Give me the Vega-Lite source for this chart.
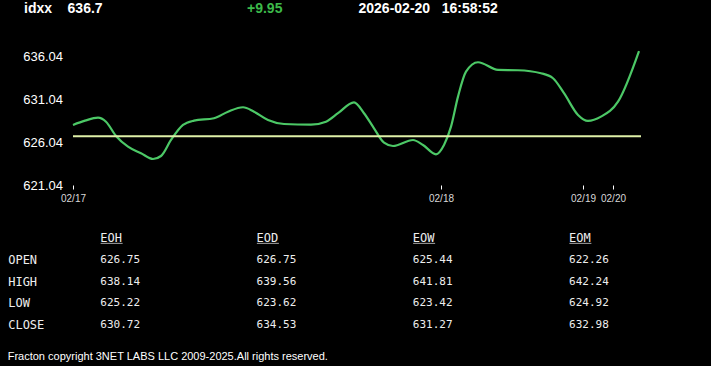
{
  "$schema": "https://vega.github.io/schema/vega-lite/v6.json",
  "background": "#000000",
  "padding": {"left": 7, "top": 0, "right": 14, "bottom": 4},
  "spacing": 13,
  "title": {
    "text": "Fracton copyright 3NET LABS LLC 2009-2025.All rights reserved.",
    "orient": "bottom",
    "anchor": "start",
    "frame": "bounds",
    "color": "#ffffff",
    "font": "Liberation Sans",
    "fontSize": 11,
    "fontWeight": "normal",
    "offset": 3
  },
  "config": {
    "view": {"stroke": null},
    "axis": {"grid": false, "domain": false}
  },
  "datasets": {
    "header": [
      {"slot": "symbol", "text": "idxx\u00a0\u00a0\u00a0\u00a0636.7"},
      {"slot": "change", "text": "+9.95"},
      {"slot": "time", "text": "2026-02-20\u00a0\u00a0\u00a016:58:52"}
    ],
    "open": [{"open": 626.75}],
    "series": [
      {"n": 0, "price": 628.06},
      {"n": 6, "price": 628.56},
      {"n": 12.5, "price": 628.91},
      {"n": 16.5, "price": 628.44},
      {"n": 21.5, "price": 626.77},
      {"n": 27.5, "price": 625.52},
      {"n": 34, "price": 624.75},
      {"n": 40, "price": 624.08},
      {"n": 44, "price": 624.43},
      {"n": 49, "price": 626.3},
      {"n": 55, "price": 628.06},
      {"n": 60.5, "price": 628.56},
      {"n": 70.5, "price": 628.84},
      {"n": 77.5, "price": 629.61},
      {"n": 85, "price": 630.13},
      {"n": 90.5, "price": 629.61},
      {"n": 97.5, "price": 628.64},
      {"n": 105.5, "price": 628.17},
      {"n": 119, "price": 628.09},
      {"n": 126.5, "price": 628.44},
      {"n": 132.5, "price": 629.43},
      {"n": 140.5, "price": 630.7},
      {"n": 145.5, "price": 629.43},
      {"n": 150.5, "price": 627.67},
      {"n": 155.5, "price": 625.99},
      {"n": 160, "price": 625.6},
      {"n": 170, "price": 626.3},
      {"n": 175, "price": 625.72},
      {"n": 181.5, "price": 624.63},
      {"n": 185.5, "price": 625.72},
      {"n": 189, "price": 627.86},
      {"n": 192.5, "price": 631.37},
      {"n": 196.5, "price": 634.29},
      {"n": 202.5, "price": 635.39},
      {"n": 212.5, "price": 634.49},
      {"n": 222.5, "price": 634.45},
      {"n": 234, "price": 634.1},
      {"n": 240, "price": 633.52},
      {"n": 245.5, "price": 631.77},
      {"n": 252.5, "price": 629.23},
      {"n": 257.5, "price": 628.53},
      {"n": 264, "price": 629.03},
      {"n": 272.5, "price": 630.78},
      {"n": 283, "price": 636.7}
    ],
    "columns": [{"col": "EOH"}, {"col": "EOD"}, {"col": "EOW"}, {"col": "EOM"}],
    "table": [
      {"row": "OPEN", "col": "EOH", "value": 626.75},
      {"row": "OPEN", "col": "EOD", "value": 626.75},
      {"row": "OPEN", "col": "EOW", "value": 625.44},
      {"row": "OPEN", "col": "EOM", "value": 622.26},
      {"row": "HIGH", "col": "EOH", "value": 638.14},
      {"row": "HIGH", "col": "EOD", "value": 639.56},
      {"row": "HIGH", "col": "EOW", "value": 641.81},
      {"row": "HIGH", "col": "EOM", "value": 642.24},
      {"row": "LOW", "col": "EOH", "value": 625.22},
      {"row": "LOW", "col": "EOD", "value": 623.62},
      {"row": "LOW", "col": "EOW", "value": 623.42},
      {"row": "LOW", "col": "EOM", "value": 624.92},
      {"row": "CLOSE", "col": "EOH", "value": 630.72},
      {"row": "CLOSE", "col": "EOD", "value": 634.53},
      {"row": "CLOSE", "col": "EOW", "value": 631.27},
      {"row": "CLOSE", "col": "EOM", "value": 632.98}
    ]
  },
  "vconcat": [
    {
      "width": 568,
      "height": 18,
      "data": {"name": "header"},
      "layer": [
        {
          "transform": [{"filter": "datum.slot !== 'change'"}],
          "mark": {"type": "text", "align": "left", "baseline": "middle", "font": "Liberation Sans", "fontSize": 14, "fontWeight": "bold", "color": "#ffffff"},
          "encoding": {
            "x": {"field": "slot", "type": "nominal", "scale": {"type": "point", "domain": ["symbol", "gap", "change", "time"], "range": [-49, 285.5], "padding": 0}, "axis": null},
            "text": {"field": "text"}
          }
        },
        {
          "transform": [{"filter": "datum.slot === 'change'"}],
          "mark": {"type": "text", "align": "left", "baseline": "middle", "font": "Liberation Sans", "fontSize": 14, "fontWeight": "bold", "color": "#3cb94a"},
          "encoding": {
            "x": {"field": "slot", "type": "nominal", "scale": {"type": "point", "domain": ["symbol", "gap", "change", "time"], "range": [-49, 285.5], "padding": 0}, "axis": null},
            "text": {"field": "text"}
          }
        }
      ]
    },
    {
      "width": 568,
      "height": 154,
      "layer": [
        {
          "data": {"name": "series"},
          "mark": {"type": "line", "interpolate": "monotone", "color": "#4cc866", "strokeWidth": 2.2},
          "encoding": {
            "x": {
              "field": "n", "type": "quantitative",
              "scale": {"domain": [0, 284], "nice": false, "zero": false},
              "axis": {
                "values": [0, 184, 255, 270],
                "labelExpr": "datum.value == 0 ? '02/17' : datum.value == 184 ? '02/18' : datum.value == 255 ? '02/19' : '02/20'",
                "labelColor": "#d8d8d8", "labelFont": "Liberation Sans", "labelFontSize": 10,
                "tickColor": "#ffffff", "tickSize": 4, "tickWidth": 1, "labelPadding": 4,
                "labelFlush": false, "labelOverlap": false, "domain": false, "grid": false, "title": null
              }
            },
            "y": {
              "field": "price", "type": "quantitative",
              "scale": {"domain": [621.04, 639.04], "nice": false, "zero": false},
              "axis": {
                "values": [621.04, 626.04, 631.04, 636.04], "format": ".2f",
                "labelColor": "#ffffff", "labelFont": "Liberation Sans", "labelFontSize": 13,
                "ticks": false, "tickSize": 0, "domain": false, "grid": false, "labelPadding": 10.5, "title": null
              }
            }
          }
        },
        {
          "data": {"name": "open"},
          "mark": {"type": "rule", "color": "#dff0a8", "strokeWidth": 2},
          "encoding": {
            "y": {
              "field": "open", "type": "quantitative",
              "scale": {"domain": [621.04, 639.04], "nice": false, "zero": false},
              "axis": {
                "values": [621.04, 626.04, 631.04, 636.04], "format": ".2f",
                "labelColor": "#ffffff", "labelFont": "Liberation Sans", "labelFontSize": 13,
                "ticks": false, "tickSize": 0, "domain": false, "grid": false, "labelPadding": 10.5, "title": null
              }
            }
          }
        }
      ]
    },
    {
      "width": 625,
      "height": 131.5,
      "layer": [
        {
          "data": {"name": "table"},
          "mark": {"type": "text", "align": "left", "baseline": "middle", "font": "DejaVu Sans Mono", "fontSize": 11, "color": "#eeeeee"},
          "encoding": {
            "x": {"field": "col", "type": "nominal", "bandPosition": 0.175, "scale": {"type": "band", "domain": ["EOH", "EOD", "EOW", "EOM"], "paddingInner": 0, "paddingOuter": 0}, "axis": null},
            "y": {
              "field": "row", "type": "nominal",
              "scale": {"type": "band", "domain": ["hdr", "OPEN", "HIGH", "LOW", "CLOSE"], "paddingInner": 0, "paddingOuter": 0.53},
              "axis": {
                "title": null, "orient": "left", "ticks": false, "tickSize": 0, "domain": false, "grid": false,
                "labelAlign": "left", "labelPadding": 65.3, "labelFont": "DejaVu Sans Mono", "labelFontSize": 12,
                "labelColor": "#eeeeee", "labelExpr": "datum.value == 'hdr' ? '' : datum.value"
              }
            },
            "text": {"field": "value", "type": "quantitative", "format": ".2f"}
          }
        },
        {
          "data": {"name": "columns"},
          "mark": {"type": "text", "align": "left", "baseline": "middle", "font": "DejaVu Sans Mono", "fontSize": 12, "color": "#eeeeee"},
          "encoding": {
            "x": {"field": "col", "type": "nominal", "bandPosition": 0.175},
            "y": {"datum": "hdr", "type": "nominal"},
            "text": {"field": "col"}
          }
        },
        {
          "data": {"name": "columns"},
          "mark": {"type": "tick", "orient": "horizontal", "size": 22, "thickness": 1, "color": "#eeeeee", "xOffset": -39.5, "yOffset": 5},
          "encoding": {
            "x": {"field": "col", "type": "nominal"},
            "y": {"datum": "hdr", "type": "nominal"}
          }
        }
      ]
    }
  ]
}
